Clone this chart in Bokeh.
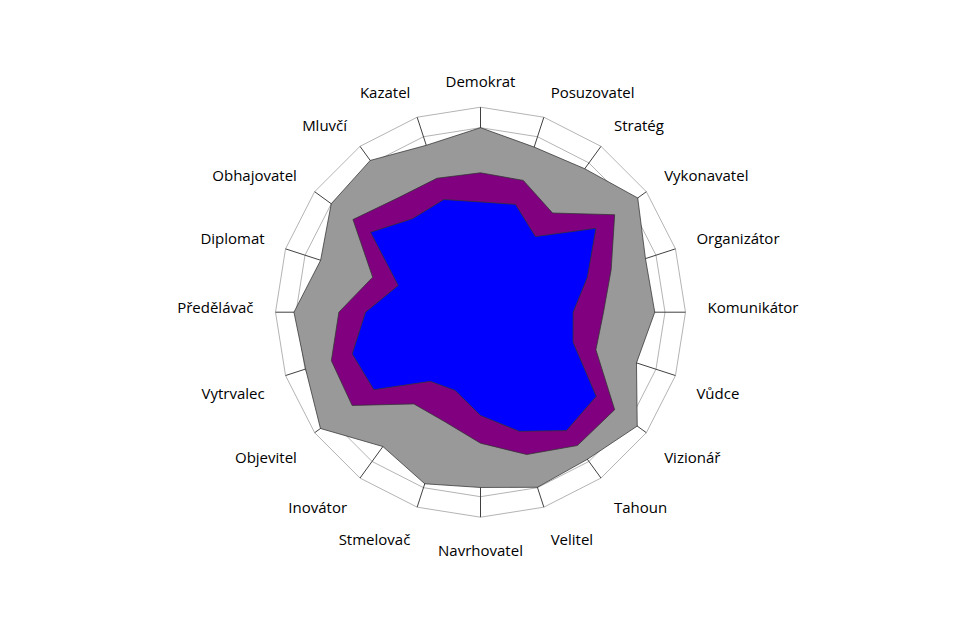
import numpy as np
from bokeh.plotting import figure
from bokeh.models import Range1d
from bokeh.embed import file_html
from bokeh.resources import INLINE
from bokeh.core.properties import value

categories = ["Demokrat", "Posuzovatel", "Stratég", "Vykonavatel", "Organizátor",
              "Komunikátor", "Vůdce", "Vizionář", "Tahoun", "Velitel",
              "Navrhovatel", "Stmelovač", "Inovátor", "Objevitel", "Vytrvalec",
              "Předělávač", "Diplomat", "Obhajovatel", "Mluvčí", "Kazatel"]
outer_values = [9.0, 8.47, 8.65, 9.48, 8.46, 8.5, 8.0, 9.45, 8.87, 8.98,
                8.55, 8.8, 8.1, 9.65, 8.97, 9.1, 8.2, 9.0, 9.15, 8.56]
middle_values = [6.8, 6.76, 5.98, 8.09, 6.7, 6.0, 5.92, 8.09, 8.04, 7.3,
                 6.39, 5.62, 5.53, 7.74, 7.65, 6.91, 5.53, 7.69, 6.88, 6.87]
inner_values = [5.38, 5.53, 4.56, 6.96, 5.48, 4.52, 4.75, 6.98, 7.14, 6.11,
                5.04, 4.01, 4.17, 6.43, 6.58, 5.61, 4.22, 6.63, 5.64, 5.78]
rings = [1, 2, 3, 4, 5, 6, 7, 8, 9, 10]
scale_max = 10

n = len(categories)
theta = np.arange(n) * 2 * np.pi / n
sx, cy = np.sin(theta), np.cos(theta)

PX = 20.5  # pixels per unit
W, H = 944, 604
cxp, cyp = 480.0, 311.7
p = figure(width=W, height=H, output_backend="svg", toolbar_location=None,
           x_range=Range1d(-cxp / PX, (W - cxp) / PX),
           y_range=Range1d(-(H - cyp) / PX, cyp / PX),
           min_border=0, outline_line_color=None)
p.axis.visible = False
p.grid.visible = False
p.background_fill_color = "white"
p.border_fill_color = "white"

# rings
p.patches([list(r * sx) for r in rings], [list(r * cy) for r in rings],
          fill_color=None, line_color="#b4b4b4", line_width=1)
# spokes
p.segment(x0=[0] * n, y0=[0] * n, x1=list(scale_max * sx), y1=list(scale_max * cy),
          line_color="#404040", line_width=1)

for vals, col in [(outer_values, "#999999"), (middle_values, "#800080"), (inner_values, "#0000ff")]:
    v = np.array(vals)
    p.patch(list(v * sx), list(v * cy), fill_color=col, line_color="#333333", line_width=0.75)

# labels
rl = 227 / PX
groups = {}
for i, name in enumerate(categories):
    if i == 0:
        al, bl = "center", "alphabetic"
    elif i == n // 2:
        al, bl = "center", "top"
    elif i < n // 2:
        al = "left"
        bl = "middle" if i == n // 4 else ("alphabetic" if i < n // 4 else "top")
    else:
        al = "right"
        bl = "middle" if i == 3 * n // 4 else ("alphabetic" if i > 3 * n // 4 else "top")
    g = groups.setdefault((al, bl), ([], [], []))
    g[0].append(rl * sx[i]); g[1].append(rl * cy[i]); g[2].append(name)

yoff = {"alphabetic": -4, "middle": -5, "top": 1}
for (al, bl), (xs, ys, ts) in groups.items():
    p.text(x=xs, y=ys, text=ts, text_align=al, text_baseline=bl, y_offset=yoff[bl],
           text_font=value("Open Sans"), text_font_size="15px", text_color="#000000")

open("out.html", "w").write(file_html(p, INLINE))
